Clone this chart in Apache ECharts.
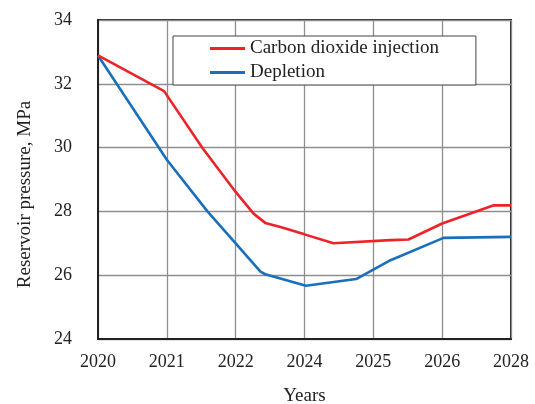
<!DOCTYPE html>
<html>
<head>
<meta charset="utf-8">
<script src="https://cdn.jsdelivr.net/npm/echarts@6/dist/echarts.min.js"></script>
<style>
  html, body { margin: 0; padding: 0; background: #fff; }
  #chart { width: 535px; height: 404px; }
</style>
</head>
<body>
<div id="chart"></div>
<script>
// Tick labels along the time axis (evenly spaced slots)
const yearLabels = ['2020', '2021', '2022', '2024', '2025', '2026', '2028'];

// Carbon dioxide injection: slot position and reservoir pressure (MPa)
const co2Pos = [0, 0.96, 1.51, 2.0, 2.26, 2.43, 2.65, 3.0, 3.42, 4.25, 4.51, 5.0, 5.75, 6.0];
const co2Pressure = [32.89, 31.77, 30.01, 28.61, 27.93, 27.64, 27.51, 27.28, 27.0, 27.10, 27.12, 27.62, 28.19, 28.19];

// Depletion: slot position and reservoir pressure (MPa)
const depPos = [0, 1.0, 1.59, 2.0, 2.36, 2.43, 2.65, 3.02, 3.75, 4.25, 5.02, 6.0];
const depPressure = [32.89, 29.62, 28.0, 27.0, 26.11, 26.03, 25.90, 25.67, 25.88, 26.47, 27.17, 27.20];

const serif = '"Liberation Serif", "Times New Roman", serif';
const pairs = (xs, ys) => xs.map((x, i) => [x, ys[i]]);
const lineIcon = 'path://M0,0 H35 V3 H0 Z';

const chart = echarts.init(document.getElementById('chart'), null, { renderer: 'canvas' });
chart.setOption({
  animation: false,
  backgroundColor: '#fff',
  grid: {
    left: 98, right: 24, top: 20, bottom: 65,
    outerBoundsMode: 'none',
    containLabel: false,
    show: true, borderColor: '#222', borderWidth: 2, backgroundColor: 'transparent'
  },
  legend: {
    left: 173, top: 36,
    orient: 'vertical',
    backgroundColor: '#fff',
    borderColor: '#444', borderWidth: 1,
    padding: [3, 37, 3, 37],
    itemGap: 5,
    itemWidth: 35, itemHeight: 3,
    textStyle: { fontFamily: serif, fontSize: 19, color: '#222', lineHeight: 19 },
    data: [
      { name: 'Carbon dioxide injection', icon: lineIcon },
      { name: 'Depletion', icon: lineIcon }
    ]
  },
  xAxis: {
    type: 'value', min: 0, max: 6, interval: 1,
    name: 'Years', nameLocation: 'middle', nameGap: 48,
    nameTextStyle: { fontFamily: serif, fontSize: 19, color: '#222' },
    axisLine: { show: true, lineStyle: { color: '#222', width: 2 } },
    axisTick: { show: false },
    axisLabel: {
      fontFamily: serif, fontSize: 18, color: '#222', margin: 14,
      formatter: v => yearLabels[Math.round(v)] ?? ''
    },
    splitLine: { show: true, lineStyle: { color: '#8e8e8e', width: 1.3 } }
  },
  yAxis: {
    type: 'value', min: 24, max: 34, interval: 2,
    name: 'Reservoir pressure, MPa', nameLocation: 'middle', nameGap: 63,
    nameTextStyle: { fontFamily: serif, fontSize: 19, color: '#222', padding: [0, 0, 0, -30] },
    axisLine: { show: true, lineStyle: { color: '#222', width: 2 } },
    axisTick: { show: false },
    axisLabel: { fontFamily: serif, fontSize: 18, color: '#222', margin: 26 },
    splitLine: { show: true, lineStyle: { color: '#8e8e8e', width: 1.3 } }
  },
  series: [
    {
      name: 'Carbon dioxide injection', type: 'line', symbol: 'none',
      data: pairs(co2Pos, co2Pressure),
      lineStyle: { color: '#ee2229', width: 2.6 },
      itemStyle: { color: '#ee2229' }, z: 3
    },
    {
      name: 'Depletion', type: 'line', symbol: 'none',
      data: pairs(depPos, depPressure),
      lineStyle: { color: '#1a6fba', width: 2.6 },
      itemStyle: { color: '#1a6fba' }, z: 2
    }
  ]
});
</script>
</body>
</html>
